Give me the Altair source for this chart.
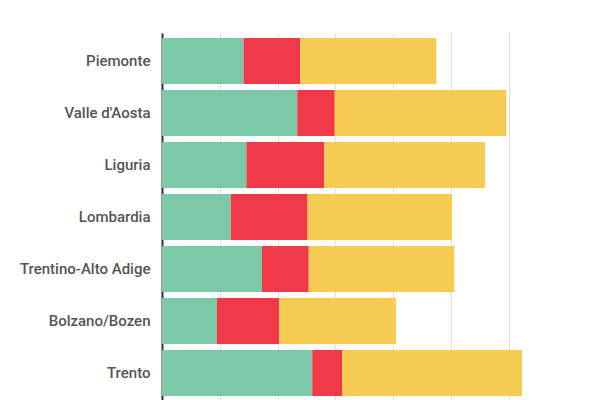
import altair as alt
import pandas as pd

#regions top to bottom
regions = ["Piemonte", "Valle d'Aosta", "Liguria", "Lombardia",
           "Trentino-Alto Adige", "Bolzano/Bozen", "Trento"]

#three stacked segments per region
green = [14.1, 23.4, 14.6, 11.9, 17.3, 9.5, 26.0]
red = [9.8, 6.5, 13.5, 13.3, 8.1, 10.8, 5.2]
yellow = [23.6, 29.7, 27.8, 25.0, 25.2, 20.2, 31.1]

series = ["verde", "rosso", "giallo"]
colors = ["#7dc8a8", "#f03a4a", "#f5cb52"]

rows = []
for i, r in enumerate(regions):
    for k, vals in enumerate([green, red, yellow]):
        rows.append({"regione": r, "serie": series[k], "ordine": k, "valore": vals[i]})
df = pd.DataFrame(rows)

chart = alt.Chart(df).mark_bar(strokeWidth=0).encode(
    x=alt.X('valore:Q', stack='zero',
            scale=alt.Scale(domain=[0, 63], nice=False),
            axis=alt.Axis(title=None, labels=False, ticks=False, domain=False,
                          values=[0, 10, 20, 30, 40, 50, 60],
                          grid=True, gridColor='#dddddd', gridWidth=1)),
    y=alt.Y('regione:N', sort=regions,
            scale=alt.Scale(paddingInner=0.115, paddingOuter=0.096),
            axis=alt.Axis(title=None, ticks=False, grid=False,
                          domainColor='#333333', domainWidth=2,
                          labelFont='Roboto', labelFontSize=15, labelFontWeight=500,
                          labelColor='#555555', labelPadding=12)),
    color=alt.Color('serie:N', sort=series,
                    scale=alt.Scale(domain=series, range=colors), legend=None),
    order=alt.Order('ordine:Q')
).properties(
    width=364, height=368,
    autosize=alt.AutoSizeParams(type='none'),
    padding={"left": 154, "top": 25, "right": 0, "bottom": 0}
).configure_view(stroke=None)

chart.save("out.html", embed_options={"renderer": "svg", "actions": False})
